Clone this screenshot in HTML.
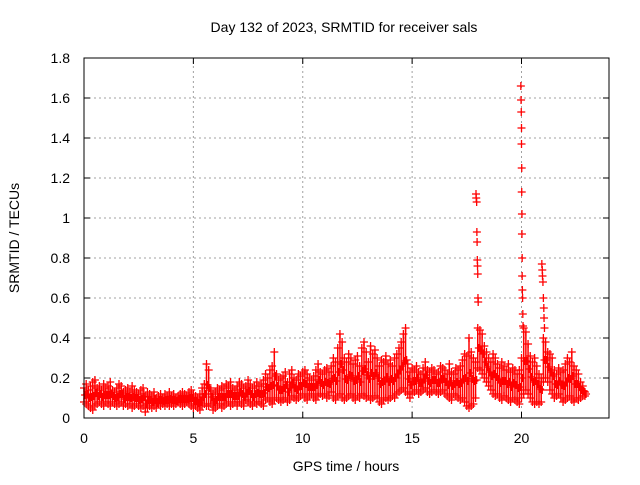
<!DOCTYPE html>
<html><head><meta charset="utf-8"><style>
body{margin:0;background:#fff}
svg text{font-family:"Liberation Sans",sans-serif;font-size:14px;fill:#000}
</style></head><body>
<svg id="c" width="640" height="480" xmlns="http://www.w3.org/2000/svg">
<text x="344" y="32" text-anchor="middle">Day 132 of 2023, SRMTID for receiver sals</text>
<text x="346" y="471" text-anchor="middle">GPS time / hours</text>
<text transform="translate(19,238) rotate(-90)" text-anchor="middle">SRMTID / TECUs</text>
<g id="grid"></g><g id="marks"></g><g id="axes"></g>
</svg>
<script>
const xTicks=[0,5,10,15,20];
const yTicks=[0,0.2,0.4,0.6,0.8,1,1.2,1.4,1.6,1.8];
const yTickLabels=["0","0.2","0.4","0.6","0.8","1","1.2","1.4","1.6","1.8"];
const hi=[.15,.17,.14,.16,.18,.19,.15,.16,.14,.17,.15,.16,.18,.14,.13,.15,.17,.16,.13,.14,.15,.13,.16,.14,.13,.12,.14,.15,.11,.13,.12,.11,.13,.10,.11,.12,.10,.12,.11,.13,.11,.12,.10,.11,.12,.13,.12,.11,.13,.14,.12,.11,.10,.12,.15,.17,.27,.24,.14,.12,.13,.15,.14,.16,.15,.17,.16,.18,.15,.14,.16,.18,.17,.15,.16,.19,.17,.15,.16,.18,.16,.17,.19,.22,.20,.24,.26,.33,.22,.19,.20,.21,.23,.18,.22,.24,.20,.19,.22,.21,.23,.24,.22,.20,.19,.21,.24,.27,.23,.22,.24,.25,.23,.26,.30,.28,.35,.42,.38,.30,.28,.32,.30,.27,.29,.31,.26,.35,.38,.33,.28,.36,.32,.34,.30,.26,.29,.28,.31,.27,.29,.26,.30,.32,.35,.38,.42,.45,.27,.23,.25,.24,.26,.23,.22,.25,.28,.24,.23,.25,.24,.22,.23,.26,.25,.24,.22,.27,.23,.22,.25,.24,.26,.29,.32,.31,.40,.33,.30,.28,.45,.44,.42,.36,.33,.30,.28,.32,.30,.27,.25,.28,.26,.24,.27,.23,.25,.24,.22,.24,.30,.45,.43,.37,.31,.28,.30,.26,.22,.20,.40,.38,.33,.32,.30,.24,.22,.25,.23,.24,.27,.30,.28,.33,.26,.24,.22,.18,.16,.13];
const lo=[.08,.07,.06,.05,.04,.06,.07,.08,.07,.06,.08,.07,.06,.08,.07,.06,.07,.08,.06,.07,.06,.07,.05,.06,.07,.06,.05,.06,.03,.05,.06,.05,.06,.05,.07,.06,.07,.06,.07,.06,.07,.06,.07,.08,.07,.06,.07,.08,.07,.06,.05,.06,.05,.04,.06,.07,.06,.06,.07,.04,.05,.06,.07,.05,.06,.07,.08,.06,.07,.08,.06,.08,.07,.06,.09,.08,.07,.06,.08,.07,.08,.07,.06,.09,.10,.08,.07,.09,.10,.09,.08,.09,.10,.08,.09,.11,.10,.09,.10,.11,.12,.10,.09,.11,.12,.10,.09,.11,.12,.11,.12,.10,.11,.13,.10,.09,.11,.12,.10,.09,.10,.11,.12,.10,.09,.11,.10,.12,.11,.10,.11,.09,.10,.11,.10,.08,.07,.09,.10,.09,.10,.11,.10,.12,.13,.14,.15,.13,.12,.10,.12,.13,.14,.12,.13,.14,.15,.13,.12,.13,.14,.13,.12,.13,.14,.12,.11,.10,.09,.12,.11,.10,.09,.10,.08,.06,.05,.06,.07,.10,.25,.24,.22,.20,.18,.16,.14,.12,.11,.12,.10,.09,.11,.10,.09,.08,.10,.09,.08,.07,.10,.12,.14,.12,.10,.08,.07,.08,.07,.08,.18,.20,.18,.14,.12,.10,.11,.12,.10,.08,.09,.10,.11,.09,.08,.10,.09,.10,.11,.11];
const spikeT=[17.92,17.93,17.95,17.96,17.97,17.98,17.99,18.0,18.01,18.02,19.97,19.98,19.99,20.0,20.0,20.01,20.01,20.02,20.02,20.03,20.03,20.04,20.05,20.06,20.07,20.93,20.95,20.96,20.98,21.0,21.02,21.03,21.05];
const spikeV=[1.12,1.10,1.08,0.93,0.88,0.79,0.76,0.72,0.6,0.58,1.66,1.59,1.53,1.45,1.37,1.25,1.13,1.02,0.92,0.8,0.71,0.64,0.6,0.52,0.46,0.77,0.74,0.71,0.68,0.6,0.55,0.5,0.45];
const X0=84,X1=609,Y0=418,Y1=58,XMAX=24,YMAX=1.8;
const sx=t=>X0+t/XMAX*(X1-X0), sy=v=>Y0-v/YMAX*(Y0-Y1);
const NS="http://www.w3.org/2000/svg";
function mk(tag,attrs,parent){const e=document.createElementNS(NS,tag);for(const k in attrs)e.setAttribute(k,attrs[k]);document.getElementById(parent).appendChild(e);return e;}
xTicks.forEach(t=>{
 if(t>0){const g=mk('line',{x1:sx(t),x2:sx(t),y1:Y0,y2:Y1,stroke:'#a0a0a0','stroke-dasharray':'2,3'},'grid');
 
 }
 const tk=mk('path',{d:`M${sx(t)},${Y0}v-6M${sx(t)},${Y1}v6`,stroke:'#000'},'axes');
 
 
 const l=mk('text',{x:sx(t),y:443,'text-anchor':'middle'},'axes');l.textContent=t;
 
 
});
yTicks.forEach((v,i)=>{
 if(v>0&&v<YMAX){const g=mk('line',{x1:X0,x2:X1,y1:sy(v),y2:sy(v),stroke:'#a0a0a0','stroke-dasharray':'2,3'},'grid');
 
 }
 const tk=mk('path',{d:`M${X0},${sy(v)}h6M${X1},${sy(v)}h-6`,stroke:'#000'},'axes');
 
 
 const l=mk('text',{x:70,y:sy(v)+5,'text-anchor':'end'},'axes');l.textContent=yTickLabels[i];
 
 
});
const fr=mk('rect',{x:X0,y:Y1,width:X1-X0,height:Y0-Y1,fill:'none',stroke:'#000','stroke-width':1},'axes');


function plus(t,v){const p=mk('path',{d:`M${sx(t)-4},${sy(v)}h8M${sx(t)},${sy(v)-4}v8`,stroke:'#f00','stroke-width':1.3},'marks');
 
 }
hi.forEach((h,i)=>{
 const t=i*0.1;
 const b=mk('line',{x1:sx(t),x2:sx(t),y1:sy(lo[i]),y2:sy(h),stroke:'#f00','stroke-width':1.5},'marks');
 
 
 plus(t,h);plus(t,lo[i]);plus(t+0.05,(h+lo[i])/2);
});
spikeT.forEach((t,i)=>plus(t,spikeV[i]));
</script>
</body></html>
